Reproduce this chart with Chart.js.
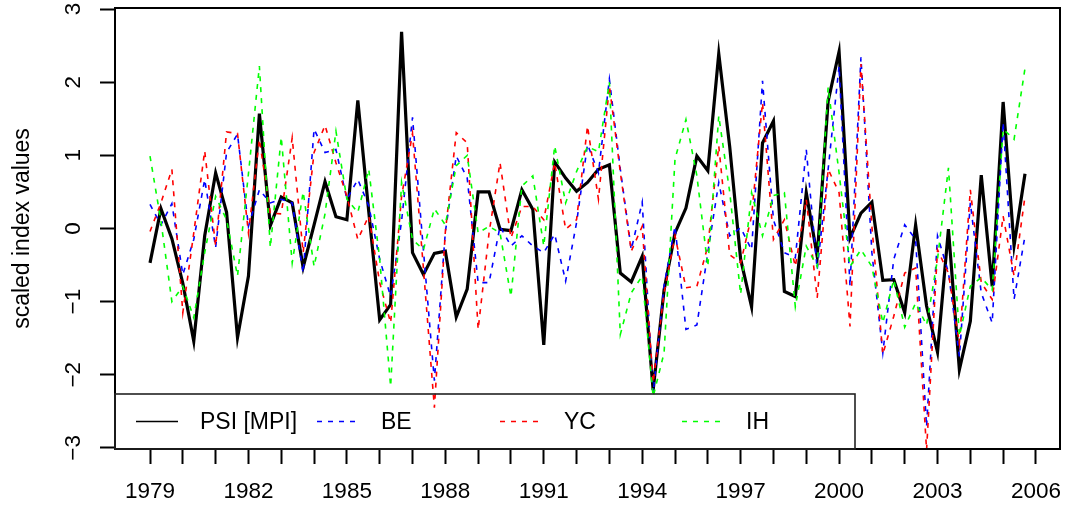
<!DOCTYPE html>
<html>
<head>
<meta charset="utf-8">
<script src="https://cdn.jsdelivr.net/npm/chart.js@4/dist/chart.umd.min.js"></script>
<style>
  html, body { margin: 0; padding: 0; background: #fff; }
  #wrap { width: 1067px; height: 506px; }
</style>
</head>
<body>
<div id="wrap"><canvas id="idx" width="1067" height="506"></canvas></div>
<script>
// ── data: three values per year, 1979 to 2005 ────────────────────────────────

const startYear = 1979;
const perYear = 3;

const psi = [
  -0.47, 0.27, -0.14, -0.75, -1.54, -0.10, 0.76, 0.22, -1.49, -0.65,
  1.57, 0.04, 0.43, 0.35, -0.53, 0.05, 0.64, 0.16, 0.12, 1.75,
  0.23, -1.25, -1.04, 2.69, -0.33, -0.63, -0.34, -0.31, -1.21, -0.83,
  0.50, 0.50, -0.01, -0.03, 0.53, 0.26, -1.59, 0.91, 0.69, 0.51,
  0.63, 0.81, 0.87, -0.61, -0.73, -0.38, -2.21, -0.84, -0.06, 0.28,
  0.99, 0.79, 2.39, 1.12, -0.42, -1.07, 1.17, 1.47, -0.86, -0.93,
  0.49, -0.38, 1.74, 2.42, -0.13, 0.21, 0.36, -0.71, -0.70, -1.15,
  0.05, -1.06, -1.69, -0.01, -1.93, -1.27, 0.73, -0.79, 1.73, -0.23,
  0.75,
];

const be = [
  0.33, 0.05, 0.34, -0.63, -0.15, 0.67, -0.26, 1.04, 1.29, 0.03,
  0.53, 0.35, 0.40, 0.35, -0.61, 1.36, 1.04, 1.08, 0.40, 0.67,
  0.31, -0.42, -0.93, 0.10, 1.52, -0.30, -2.08, -0.05, 0.99, 0.69,
  -0.74, -0.74, 0.03, -0.24, -0.10, -0.24, -0.33, -0.08, -0.72, 0.08,
  1.15, 0.76, 2.04, 0.81, -0.29, 0.36, -2.25, -0.78, 0.03, -1.38,
  -1.32, -0.33, 0.63, -0.10, 0.01, -0.29, 2.02, 0.12, -0.33, -0.40,
  1.08, -0.56, 0.81, 2.22, -0.79, 2.34, -0.33, -1.70, -0.42, 0.05,
  -0.15, -2.71, -0.10, -0.60, -1.75, 0.35, -0.88, -1.29, 1.45, -0.97,
  -0.10,
];

const yc = [
  -0.04, 0.35, 0.81, -1.15, -0.06, 1.06, -0.24, 1.32, 1.30, -0.06,
  1.22, 0.21, 0.20, 1.24, -0.33, 1.04, 1.41, 0.90, 0.44, -0.15,
  0.17, -0.74, -1.29, 0.44, 1.30, -0.55, -2.45, -0.05, 1.31, 1.17,
  -1.38, -0.06, 0.90, -0.13, 0.30, 0.30, 0.12, 0.90, -0.01, 0.12,
  1.40, 0.40, 1.95, 0.77, -0.31, 0.03, -2.11, -0.88, -0.10, -0.81,
  -0.79, -0.24, 1.13, -0.36, -0.47, 0.17, 1.72, -0.15, 0.12, -0.52,
  0.40, -0.95, 0.81, 0.49, -1.34, 2.25, 0.03, -1.72, -1.20, -0.61,
  -0.54, -3.03, -0.29, -0.61, -1.57, 0.53, -0.74, -0.97, 0.17, -0.65,
  0.44,
];

const ih = [
  0.99, 0.10, -1.00, -0.79, -1.22, -0.33, 0.44, 0.12, -0.65, 0.75,
  2.22, -0.26, 1.25, -0.47, 0.50, -0.52, 0.20, 1.33, 0.40, 0.22,
  0.81, -0.42, -2.16, 0.63, -0.15, -0.29, 0.27, 0.05, 0.86, 1.00,
  -0.06, 0.03, -0.06, -0.93, 0.58, 0.72, -0.24, 1.13, 0.35, 0.78,
  1.12, 1.05, 2.00, -1.45, -0.88, -0.65, -2.30, -1.70, 0.95, 1.49,
  0.72, -0.52, 1.54, 0.50, -0.90, 0.49, -0.10, 0.45, 0.49, -1.07,
  -0.24, -0.52, 1.93, 0.76, -0.52, -0.29, -0.52, -1.29, -0.70, -1.35,
  -1.02, -1.32, -0.42, 0.83, -1.47, -0.79, -0.67, -0.84, 1.36, 1.22,
  2.19,
];

const yearTicks = [
  1979, 1980, 1981, 1982, 1983, 1984, 1985, 1986, 1987, 1988,
  1989, 1990, 1991, 1992, 1993, 1994, 1995, 1996, 1997, 1998,
  1999, 2000, 2001, 2002, 2003, 2004, 2005, 2006,
];
const valueTicks = [-3, -2, -1, 0, 1, 2, 3];

const seriesNames = ['PSI [MPI]', 'BE', 'YC', 'IH'];
const seriesColors = ['#000000', '#0000ff', '#ff0000', '#00ff00'];

// ── helpers ──────────────────────────────────────────────────────────────────

const FONT = '"Liberation Sans", Arial, Helvetica, sans-serif';
const DASH = [5, 6];

function toPoints(values) {
  return values.map((v, i) => ({ x: startYear + i / perYear, y: v }));
}

function lineSet(label, values, color, solid, order) {
  return {
    label,
    data: toPoints(values),
    borderColor: color,
    borderWidth: solid ? 3.2 : 1.6,
    borderDash: solid ? [] : DASH,
    pointRadius: 0,
    tension: 0,
    fill: false,
    order,
  };
}

// no extra room for the end labels: the plot box sits at fixed edges
function noEndPadding(scale) {
  scale.paddingTop = 0;
  scale.paddingBottom = 0;
  scale.paddingLeft = 0;
  scale.paddingRight = 0;
}

// plot frame plus the see-through legend along the bottom edge
const frameAndLegend = {
  id: 'frameAndLegend',
  afterDatasetsDraw(chart) {
    const { ctx, chartArea: a } = chart;
    ctx.save();
    ctx.strokeStyle = '#000';
    ctx.lineWidth = 2;
    ctx.setLineDash([]);
    ctx.strokeRect(a.left, a.top, a.right - a.left, a.bottom - a.top);

    const boxTop = 394;
    const boxRight = 855;
    ctx.lineWidth = 1.6;
    ctx.strokeStyle = '#222';
    ctx.strokeRect(a.left, boxTop, boxRight - a.left, a.bottom - boxTop);

    const rowY = 421.5;
    const colX = [136, 317, 500, 682];
    ctx.font = '23px ' + FONT;
    ctx.textBaseline = 'middle';
    ctx.textAlign = 'left';
    seriesNames.forEach((name, i) => {
      const x0 = colX[i];
      ctx.beginPath();
      ctx.strokeStyle = seriesColors[i];
      ctx.lineWidth = 1.6;
      ctx.setLineDash(i === 0 ? [] : DASH);
      ctx.moveTo(x0, rowY);
      ctx.lineTo(x0 + 42, rowY);
      ctx.stroke();
      ctx.setLineDash([]);
      ctx.fillStyle = '#000';
      ctx.fillText(name, x0 + 64, rowY + 1);
    });
    ctx.restore();
  },
};

// ── chart ────────────────────────────────────────────────────────────────────

new Chart(document.getElementById('idx'), {
  type: 'line',
  data: {
    datasets: [
      lineSet(seriesNames[0], psi, seriesColors[0], true, 4),
      lineSet(seriesNames[1], be, seriesColors[1], false, 3),
      lineSet(seriesNames[2], yc, seriesColors[2], false, 2),
      lineSet(seriesNames[3], ih, seriesColors[3], false, 1),
    ],
  },
  options: {
    responsive: false,
    animation: false,
    devicePixelRatio: 1,
    layout: { padding: { top: 8, right: 7, left: 0, bottom: 0 } },
    plugins: {
      legend: { display: false },
      tooltip: { enabled: false },
    },
    scales: {
      x: {
        type: 'linear',
        min: 1977.933,
        max: 2006.733,
        afterBuildTicks: (scale) => {
          scale.ticks = yearTicks.map((v) => ({ value: v }));
        },
        afterFit: (scale) => {
          scale.height = 57;
          noEndPadding(scale);
        },
        grid: {
          drawOnChartArea: false,
          drawTicks: true,
          tickLength: 15,
          tickWidth: 2,
          tickColor: '#000',
        },
        border: { display: true, color: '#000', width: 2 },
        ticks: {
          autoSkip: false,
          maxRotation: 0,
          minRotation: 0,
          padding: 14,
          color: '#000',
          font: { family: FONT, size: 22.5 },
          callback: (v) => ((v - startYear) % 3 === 0 ? String(v) : ''),
        },
      },
      y: {
        type: 'linear',
        min: -3.015,
        max: 3.015,
        afterBuildTicks: (scale) => {
          scale.ticks = valueTicks.map((v) => ({ value: v }));
        },
        afterFit: (scale) => {
          scale.width = 115;
          noEndPadding(scale);
        },
        grid: {
          drawOnChartArea: false,
          drawTicks: true,
          tickLength: 15,
          tickWidth: 2,
          tickColor: '#000',
        },
        border: { display: true, color: '#000', width: 2 },
        ticks: {
          minRotation: 90,
          maxRotation: 90,
          crossAlign: 'center',
          padding: 13,
          color: '#000',
          font: { family: FONT, size: 22.5 },
          callback: (v) => (v < 0 ? '\u2212' + Math.abs(v) : String(v)),
        },
        title: {
          display: true,
          text: 'scaled index values',
          color: '#000',
          font: { family: FONT, size: 23 },
          padding: { top: 9, bottom: 0 },
        },
      },
    },
  },
  plugins: [frameAndLegend],
});
</script>
</body>
</html>
